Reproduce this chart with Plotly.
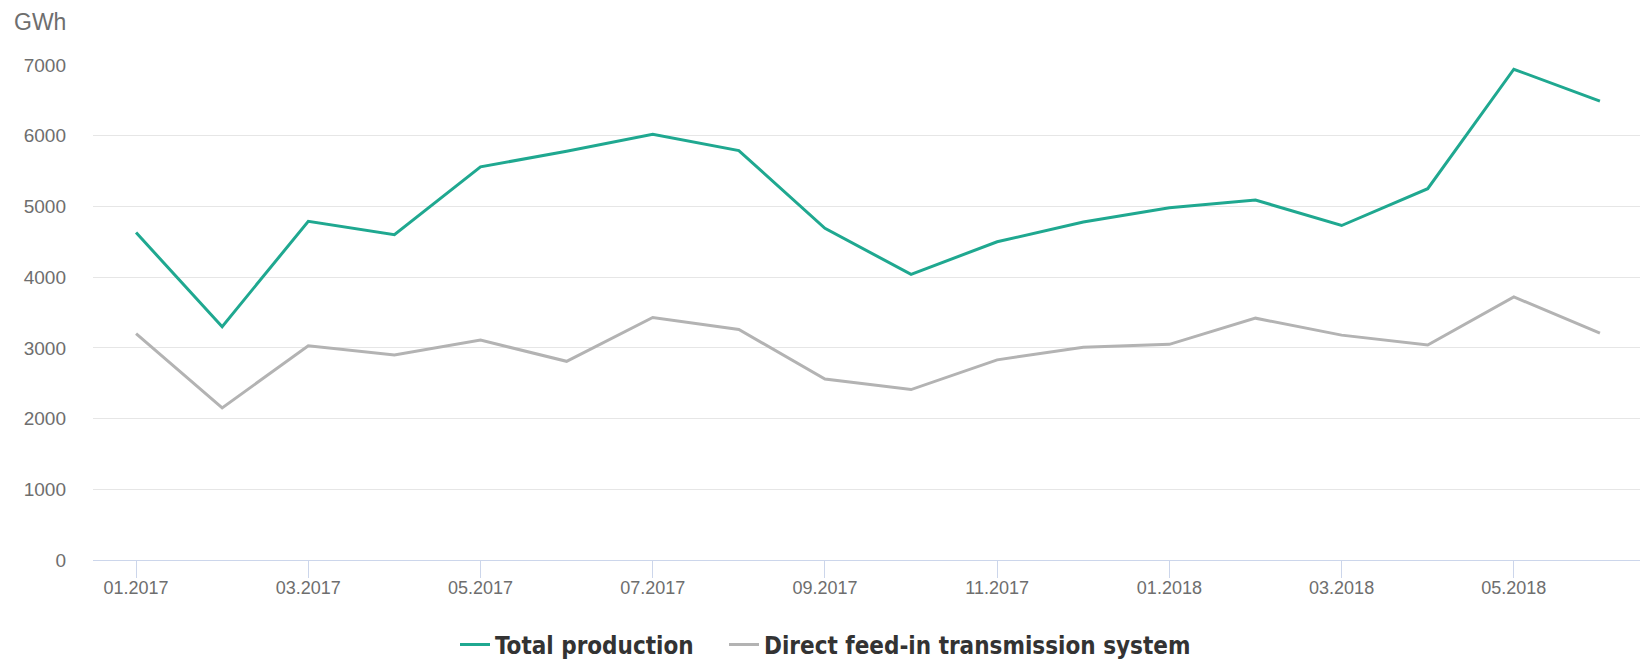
import plotly.graph_objects as go

months = ["01.2017", "02.2017", "03.2017", "04.2017", "05.2017", "06.2017",
          "07.2017", "08.2017", "09.2017", "10.2017", "11.2017", "12.2017",
          "01.2018", "02.2018", "03.2018", "04.2018", "05.2018", "06.2018"]
total_production = [4630, 3300, 4790, 4600, 5560, 5780, 6020, 5790, 4690,
                    4040, 4500, 4780, 4980, 5090, 4730, 5250, 6940, 6490]
direct_feed_in = [3200, 2150, 3030, 2900, 3110, 2810, 3430, 3260, 2560,
                  2410, 2830, 3010, 3050, 3420, 3180, 3040, 3720, 3210]
y_ticks = [0, 1000, 2000, 3000, 4000, 5000, 6000, 7000]

GREEN = "#1fa890"
GREY = "#b3b3b3"
TXT = "#6e6e6e"

# the page body has an 8px margin, so the figure is drawn 8px smaller
W, H = 1640, 654

fig = go.Figure()
fig.add_trace(go.Scatter(
    x=months, y=total_production,
    mode="lines", name="Total production",
    line=dict(color=GREEN, width=3), legend="legend"
))
fig.add_trace(go.Scatter(
    x=months, y=direct_feed_in,
    mode="lines", name="Direct feed-in transmission system",
    line=dict(color=GREY, width=3), legend="legend2"
))

legend_font = dict(family="DejaVu Sans Condensed, Arial Narrow, sans-serif",
                   size=24, color="#333333", weight="bold")

fig.update_layout(
    width=W, height=H,
    margin=dict(l=85, r=5, t=57, b=102),
    paper_bgcolor="white",
    plot_bgcolor="white",
    font=dict(family="Liberation Sans, Arial, sans-serif", color=TXT, size=18),
    showlegend=True,
    legend=dict(
        orientation="h", xref="container", yref="container",
        x=(455 - 8) / W, xanchor="left",
        y=1 - (645 - 8) / H, yanchor="middle",
        font=legend_font,
    ),
    legend2=dict(
        orientation="h", xref="container", yref="container",
        x=(724 - 8) / W, xanchor="left",
        y=1 - (645 - 8) / H, yanchor="middle",
        font=legend_font,
    ),
    xaxis=dict(
        type="category",
        categoryorder="array", categoryarray=months,
        range=[-0.5, len(months) - 0.5],
        tickvals=months[::2],
        ticktext=months[::2],
        ticks="outside", ticklen=17, tickcolor="#ccd6eb", tickwidth=1,
        ticklabelstandoff=-6,
        showline=True, linecolor="#ccd6eb", linewidth=1,
        showgrid=False, zeroline=False, automargin=False,
        tickfont=dict(size=18, color=TXT),
    ),
    yaxis=dict(
        range=[0, 7000],
        tickvals=y_ticks,
        showgrid=True, gridcolor="#e6e6e6", gridwidth=1,
        zeroline=False, showline=False, automargin=False,
        ticklabelstandoff=26,
        tickfont=dict(size=19, color=TXT),
    ),
    annotations=[dict(
        text="GWh", xref="paper", yref="paper",
        x=0, xanchor="left", y=1 + (57 - 14) / 495, yanchor="middle",
        xshift=-81, showarrow=False,
        font=dict(size=23, color=TXT),
    )],
)

fig.write_html("out.html")
